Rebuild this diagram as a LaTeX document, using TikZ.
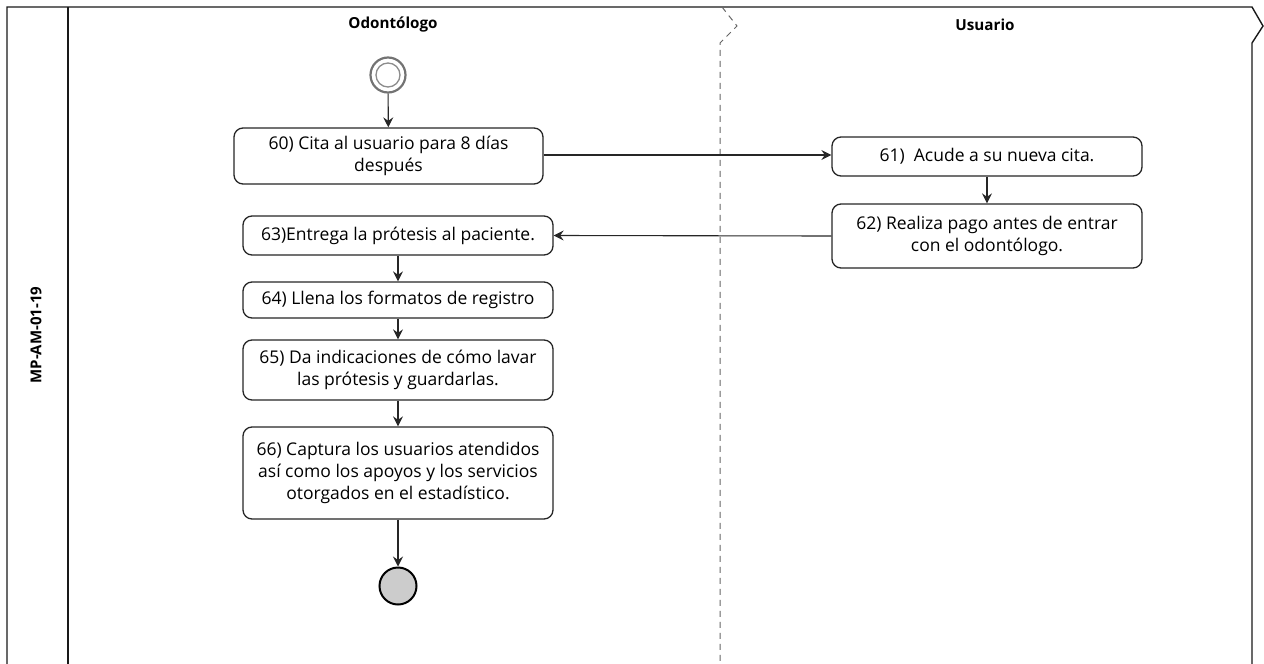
\documentclass[tikz,border=0pt]{standalone}
\usepackage{fontspec}
\setmainfont{Open Sans}
\usetikzlibrary{arrows.meta}
\tikzset{
  act/.style={draw=black!85, line width=1.3pt, rounded corners=9pt, fill=white,
    align=center, inner sep=2pt, font=\fontsize{17.5}{22}\selectfont},
  flow/.style={draw=black!85, line width=1.1pt, -{Stealth[length=10pt,width=10pt,inset=3.5pt]}},
  lanehead/.style={font=\bfseries\fontsize{15.2}{18}\selectfont},
  frame/.style={draw=black!90, line width=1.4pt},
}
\begin{document}
\begin{tikzpicture}[x=1pt,y=-1pt]
\useasboundingbox (0,0) rectangle (1264,664);
% frame
\draw[frame] (7,664) -- (7,7) -- (1252,7) -- (1263,26) -- (1252,43) -- (1252,664);
\draw[frame] (68,7) -- (68,664);
\draw[draw=black!60, line width=1pt, dash pattern=on 6pt off 5pt] (722,7) -- (737,26) -- (720,43) -- (720,664);
% lane headings
\node[lanehead] (h1) at (393,25) {Odontólogo};
\node[lanehead] (h2) at (985,25) {Usuario};
\node[font=\bfseries\fontsize{15}{18}\selectfont, rotate=90] (id) at (36,335) {MP-AM-01-19};
% start
\node[circle, draw=black!55, line width=2.2pt, minimum size=35pt, inner sep=0pt] (start) at (388,75) {};
\draw[draw=black!45, line width=1.3pt] (start.center) circle (12pt);
% activities
\node[act, minimum width=309pt, minimum height=56pt] (a60) at (388.5,156) {60) Cita al usuario para 8 días\\después};
\node[act, minimum width=310pt, minimum height=39pt] (a61) at (987,156.5) {61)\ \ Acude a su nueva cita.};
\node[act, minimum width=310pt, minimum height=64pt] (a62) at (987,236) {62) Realiza pago antes de entrar\\con el odontólogo.};
\node[act, minimum width=310pt, minimum height=39pt] (a63) at (398,235.5) {63)Entrega la prótesis al paciente.};
\node[act, minimum width=310pt, minimum height=36pt] (a64) at (398,300) {64) Llena los formatos de registro};
\node[act, minimum width=310pt, minimum height=60pt] (a65) at (398,370) {65) Da indicaciones de cómo lavar\\las prótesis y guardarlas.};
\node[act, minimum width=310pt, minimum height=92pt] (a66) at (398,473) {66) Captura los usuarios atendidos\\así como los apoyos y los servicios\\otorgados en el estadístico.};
% end
\node[circle, draw=black, fill=black!20, line width=2pt, minimum size=37pt, inner sep=0pt] (end) at (398,586) {};
% connectors
\draw[flow] (start) -- (a60);
\draw[flow] (a60.east |- 0,155) -- (a61.west |- 0,155);
\draw[flow] (a61.south -| 987,0) -- (a62.north -| 987,0);
\draw[flow] (a62.west) -- (a63.east);
\draw[flow] (a63) -- (a64);
\draw[flow] (a64) -- (a65);
\draw[flow] (a65) -- (a66);
\draw[flow] (a66) -- (end);
\end{tikzpicture}
\end{document}
